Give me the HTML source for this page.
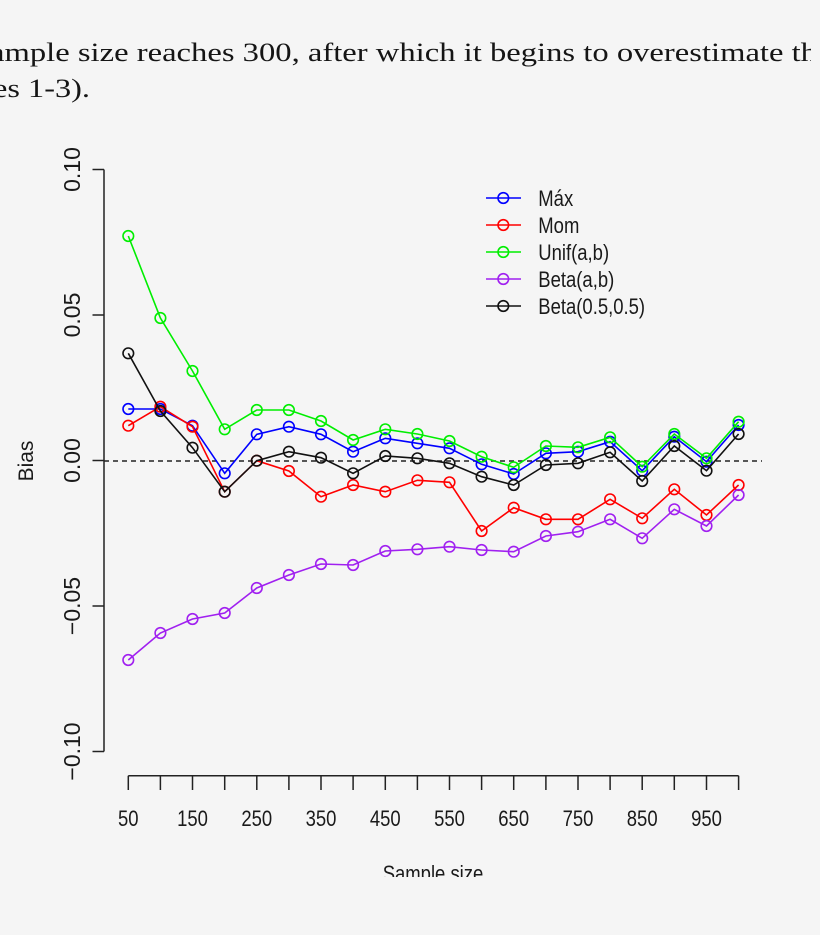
<!DOCTYPE html>
<html>
<head>
<meta charset="utf-8">
<style>
html,body{margin:0;padding:0;background:#f5f5f5;}
svg{display:block;}
</style>
</head>
<body>
<svg width="820" height="935" viewBox="0 0 820 935" xmlns="http://www.w3.org/2000/svg">
<defs>
<clipPath id="tc"><rect x="0" y="0" width="811" height="120"/></clipPath>
</defs>
<rect x="0" y="0" width="820" height="935" fill="#f5f5f5"/>

<!-- header text -->
<g clip-path="url(#tc)" font-family="'Liberation Serif', serif" font-size="26" fill="#151515">
<text x="-10" y="61" textLength="827" lengthAdjust="spacingAndGlyphs">ample size reaches 300, after which it begins to overestimate th</text>
<text x="-7" y="97" textLength="97" lengthAdjust="spacingAndGlyphs">es 1-3).</text>
</g>

<!-- axes -->
<g stroke="#222" stroke-width="1.5" fill="none">
<line x1="104" y1="169.5" x2="104" y2="751.5"/>
<line x1="92.5" y1="169.5" x2="104" y2="169.5"/>
<line x1="92.5" y1="315" x2="104" y2="315"/>
<line x1="92.5" y1="460.5" x2="104" y2="460.5"/>
<line x1="92.5" y1="606" x2="104" y2="606"/>
<line x1="92.5" y1="751.5" x2="104" y2="751.5"/>

<line x1="128.3" y1="775.7" x2="738.6" y2="775.7"/>
<path d="M128.3 775.7V790M160.4 775.7V790M192.5 775.7V790M224.7 775.7V790M256.8 775.7V790M288.9 775.7V790M321.0 775.7V790M353.1 775.7V790M385.3 775.7V790M417.4 775.7V790M449.5 775.7V790M481.6 775.7V790M513.7 775.7V790M545.9 775.7V790M578.0 775.7V790M610.1 775.7V790M642.2 775.7V790M674.3 775.7V790M706.5 775.7V790M738.6 775.7V790"/>
</g>

<!-- y tick labels -->
<g font-family="'Liberation Sans', sans-serif" font-size="23" fill="#1a1a1a" text-anchor="middle">
<text transform="translate(80,169.5) rotate(-90)">0.10</text>
<text transform="translate(80,315) rotate(-90)">0.05</text>
<text transform="translate(80,460.5) rotate(-90)">0.00</text>
<text transform="translate(80,606) rotate(-90)">−0.05</text>
<text transform="translate(80,751.5) rotate(-90)">−0.10</text>
</g>
<text transform="translate(33,461) rotate(-90)" font-family="'Liberation Sans', sans-serif" font-size="21" fill="#1a1a1a" text-anchor="middle">Bias</text>

<!-- x tick labels -->
<g font-family="'Liberation Sans', sans-serif" font-size="22" fill="#1a1a1a" text-anchor="middle">
<text transform="translate(128.3,826) scale(0.84,1)">50</text>
<text transform="translate(192.5,826) scale(0.84,1)">150</text>
<text transform="translate(256.8,826) scale(0.84,1)">250</text>
<text transform="translate(321.0,826) scale(0.84,1)">350</text>
<text transform="translate(385.3,826) scale(0.84,1)">450</text>
<text transform="translate(449.5,826) scale(0.84,1)">550</text>
<text transform="translate(513.7,826) scale(0.84,1)">650</text>
<text transform="translate(578.0,826) scale(0.84,1)">750</text>
<text transform="translate(642.2,826) scale(0.84,1)">850</text>
<text transform="translate(706.5,826) scale(0.84,1)">950</text>
<text transform="translate(433,881) scale(0.84,1)">Sample size</text>
</g>
<rect x="0" y="877" width="820" height="58" fill="#f5f5f5"/>

<!-- zero line -->
<line x1="104" y1="461" x2="762" y2="461" stroke="#222" stroke-width="1.5" stroke-dasharray="5,4"/>

<!-- series -->
<g fill="none" stroke-width="1.6">
<g stroke="#0000ff">
<polyline points="128.3,409 160.4,409 192.5,425.7 224.7,473.3 256.8,434.3 288.9,426.7 321.0,434.3 353.1,451.7 385.3,438.3 417.4,443.3 449.5,448.3 481.6,464.3 513.7,474 545.9,453.3 578.0,451.7 610.1,441.7 642.2,470.7 674.3,436.7 706.5,461.7 738.6,425"/>
<circle cx="128.3" cy="409" r="5.3"/><circle cx="160.4" cy="409" r="5.3"/><circle cx="192.5" cy="425.7" r="5.3"/><circle cx="224.7" cy="473.3" r="5.3"/><circle cx="256.8" cy="434.3" r="5.3"/><circle cx="288.9" cy="426.7" r="5.3"/><circle cx="321.0" cy="434.3" r="5.3"/><circle cx="353.1" cy="451.7" r="5.3"/><circle cx="385.3" cy="438.3" r="5.3"/><circle cx="417.4" cy="443.3" r="5.3"/><circle cx="449.5" cy="448.3" r="5.3"/><circle cx="481.6" cy="464.3" r="5.3"/><circle cx="513.7" cy="474" r="5.3"/><circle cx="545.9" cy="453.3" r="5.3"/><circle cx="578.0" cy="451.7" r="5.3"/><circle cx="610.1" cy="441.7" r="5.3"/><circle cx="642.2" cy="470.7" r="5.3"/><circle cx="674.3" cy="436.7" r="5.3"/><circle cx="706.5" cy="461.7" r="5.3"/><circle cx="738.6" cy="425" r="5.3"/>
</g>
<g stroke="#ff0000">
<polyline points="128.3,425.7 160.4,406.7 192.5,426.7 224.7,491.7 256.8,460.7 288.9,471 321.0,496.7 353.1,485 385.3,491.7 417.4,480.3 449.5,482.3 481.6,531 513.7,507.7 545.9,519.3 578.0,519.3 610.1,499.3 642.2,518.3 674.3,489.3 706.5,515 738.6,485"/>
<circle cx="128.3" cy="425.7" r="5.3"/><circle cx="160.4" cy="406.7" r="5.3"/><circle cx="192.5" cy="426.7" r="5.3"/><circle cx="224.7" cy="491.7" r="5.3"/><circle cx="256.8" cy="460.7" r="5.3"/><circle cx="288.9" cy="471" r="5.3"/><circle cx="321.0" cy="496.7" r="5.3"/><circle cx="353.1" cy="485" r="5.3"/><circle cx="385.3" cy="491.7" r="5.3"/><circle cx="417.4" cy="480.3" r="5.3"/><circle cx="449.5" cy="482.3" r="5.3"/><circle cx="481.6" cy="531" r="5.3"/><circle cx="513.7" cy="507.7" r="5.3"/><circle cx="545.9" cy="519.3" r="5.3"/><circle cx="578.0" cy="519.3" r="5.3"/><circle cx="610.1" cy="499.3" r="5.3"/><circle cx="642.2" cy="518.3" r="5.3"/><circle cx="674.3" cy="489.3" r="5.3"/><circle cx="706.5" cy="515" r="5.3"/><circle cx="738.6" cy="485" r="5.3"/>
</g>
<g stroke="#00ee00">
<polyline points="128.3,236 160.4,318 192.5,371 224.7,429.3 256.8,410 288.9,410 321.0,421 353.1,440 385.3,429.3 417.4,434 449.5,441 481.6,456.7 513.7,467.3 545.9,446 578.0,447.3 610.1,437.3 642.2,466.7 674.3,434 706.5,458.3 738.6,421.7"/>
<circle cx="128.3" cy="236" r="5.3"/><circle cx="160.4" cy="318" r="5.3"/><circle cx="192.5" cy="371" r="5.3"/><circle cx="224.7" cy="429.3" r="5.3"/><circle cx="256.8" cy="410" r="5.3"/><circle cx="288.9" cy="410" r="5.3"/><circle cx="321.0" cy="421" r="5.3"/><circle cx="353.1" cy="440" r="5.3"/><circle cx="385.3" cy="429.3" r="5.3"/><circle cx="417.4" cy="434" r="5.3"/><circle cx="449.5" cy="441" r="5.3"/><circle cx="481.6" cy="456.7" r="5.3"/><circle cx="513.7" cy="467.3" r="5.3"/><circle cx="545.9" cy="446" r="5.3"/><circle cx="578.0" cy="447.3" r="5.3"/><circle cx="610.1" cy="437.3" r="5.3"/><circle cx="642.2" cy="466.7" r="5.3"/><circle cx="674.3" cy="434" r="5.3"/><circle cx="706.5" cy="458.3" r="5.3"/><circle cx="738.6" cy="421.7" r="5.3"/>
</g>
<g stroke="#a020f0">
<polyline points="128.3,660 160.4,633 192.5,619 224.7,613 256.8,588 288.9,575 321.0,564 353.1,565 385.3,551 417.4,549.3 449.5,546.7 481.6,550 513.7,551.7 545.9,536 578.0,531.7 610.1,519.3 642.2,538.3 674.3,509.3 706.5,526 738.6,495"/>
<circle cx="128.3" cy="660" r="5.3"/><circle cx="160.4" cy="633" r="5.3"/><circle cx="192.5" cy="619" r="5.3"/><circle cx="224.7" cy="613" r="5.3"/><circle cx="256.8" cy="588" r="5.3"/><circle cx="288.9" cy="575" r="5.3"/><circle cx="321.0" cy="564" r="5.3"/><circle cx="353.1" cy="565" r="5.3"/><circle cx="385.3" cy="551" r="5.3"/><circle cx="417.4" cy="549.3" r="5.3"/><circle cx="449.5" cy="546.7" r="5.3"/><circle cx="481.6" cy="550" r="5.3"/><circle cx="513.7" cy="551.7" r="5.3"/><circle cx="545.9" cy="536" r="5.3"/><circle cx="578.0" cy="531.7" r="5.3"/><circle cx="610.1" cy="519.3" r="5.3"/><circle cx="642.2" cy="538.3" r="5.3"/><circle cx="674.3" cy="509.3" r="5.3"/><circle cx="706.5" cy="526" r="5.3"/><circle cx="738.6" cy="495" r="5.3"/>
</g>
<g stroke="#111">
<polyline points="128.3,353.3 160.4,411 192.5,447.7 224.7,491.7 256.8,460.7 288.9,451.7 321.0,457.7 353.1,473.3 385.3,456 417.4,458.3 449.5,463.3 481.6,476.7 513.7,485 545.9,465 578.0,463.3 610.1,452.3 642.2,481 674.3,446 706.5,470.7 738.6,434"/>
<circle cx="128.3" cy="353.3" r="5.3"/><circle cx="160.4" cy="411" r="5.3"/><circle cx="192.5" cy="447.7" r="5.3"/><circle cx="224.7" cy="491.7" r="5.3"/><circle cx="256.8" cy="460.7" r="5.3"/><circle cx="288.9" cy="451.7" r="5.3"/><circle cx="321.0" cy="457.7" r="5.3"/><circle cx="353.1" cy="473.3" r="5.3"/><circle cx="385.3" cy="456" r="5.3"/><circle cx="417.4" cy="458.3" r="5.3"/><circle cx="449.5" cy="463.3" r="5.3"/><circle cx="481.6" cy="476.7" r="5.3"/><circle cx="513.7" cy="485" r="5.3"/><circle cx="545.9" cy="465" r="5.3"/><circle cx="578.0" cy="463.3" r="5.3"/><circle cx="610.1" cy="452.3" r="5.3"/><circle cx="642.2" cy="481" r="5.3"/><circle cx="674.3" cy="446" r="5.3"/><circle cx="706.5" cy="470.7" r="5.3"/><circle cx="738.6" cy="434" r="5.3"/>
</g>
</g>

<!-- legend -->
<g fill="none" stroke-width="1.6">
<g stroke="#0000ff"><line x1="486" y1="198" x2="521" y2="198"/><circle cx="503.3" cy="198" r="5.3"/></g>
<g stroke="#ff0000"><line x1="486" y1="225" x2="521" y2="225"/><circle cx="503.3" cy="225" r="5.3"/></g>
<g stroke="#00ee00"><line x1="486" y1="252" x2="521" y2="252"/><circle cx="503.3" cy="252" r="5.3"/></g>
<g stroke="#a020f0"><line x1="486" y1="279" x2="521" y2="279"/><circle cx="503.3" cy="279" r="5.3"/></g>
<g stroke="#111"><line x1="486" y1="306" x2="521" y2="306"/><circle cx="503.3" cy="306" r="5.3"/></g>
</g>
<g font-family="'Liberation Sans', sans-serif" font-size="22" fill="#1a1a1a">
<text transform="translate(538.3,206) scale(0.84,1)">Máx</text>
<text transform="translate(538.3,233) scale(0.84,1)">Mom</text>
<text transform="translate(538.3,260) scale(0.84,1)">Unif(a,b)</text>
<text transform="translate(538.3,287) scale(0.84,1)">Beta(a,b)</text>
<text transform="translate(538.3,314) scale(0.84,1)">Beta(0.5,0.5)</text>
</g>
</svg>
</body>
</html>
